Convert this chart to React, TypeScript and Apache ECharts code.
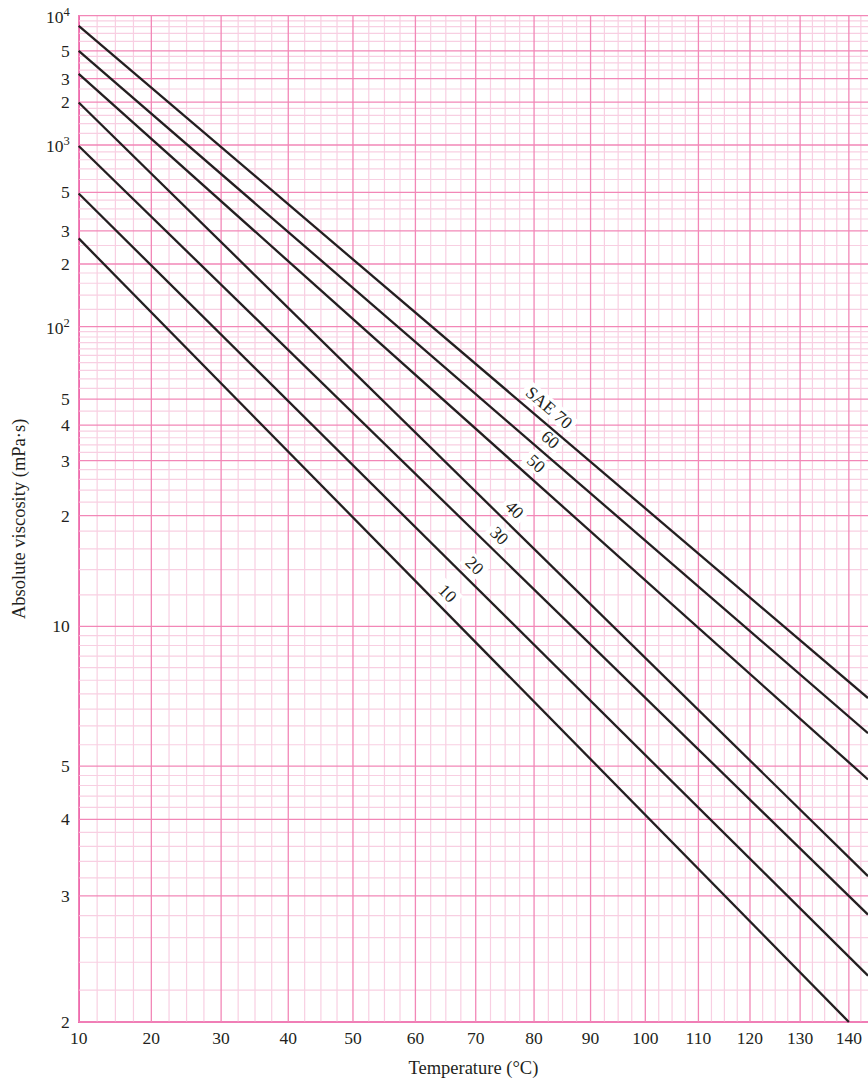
import React, { useEffect, useRef } from "react";
import * as echarts from "echarts";

// ---- Data ----
const xTickValues = [10, 20, 30, 40, 50, 60, 70, 80, 90, 100, 110, 120, 130, 140];
const yTickValues = [2, 3, 4, 5, 10, 20, 30, 40, 50, 100, 200, 300, 500, 1000, 2000, 3000, 5000, 10000];
const yTickLabels = ["2", "3", "4", "5", "10", "2", "3", "4", "5", "10^2", "2", "3", "5", "10^3", "2", "3", "5", "10^4"];
const yMinorValues = [
  9000, 8000, 7000, 6000, 4500, 4000, 3500, 2500, 1800, 1600, 1400, 1200,
  900, 800, 700, 600, 450, 400, 350, 250, 180, 160, 140, 120,
  95, 90, 85, 80, 75, 70, 65, 60, 55, 45, 38, 36, 34, 32, 28, 26, 24, 22,
  18, 16, 14, 12, 9.5, 9, 8.5, 8, 7.5, 7, 6.5, 6, 5.5,
  4.8, 4.6, 4.4, 4.2, 3.8, 3.6, 3.4, 3.2, 2.8, 2.6, 2.4, 2.2,
];
const xStartTemp = 10;
const xEndTemp = 144;
const xMinorStep = 2.5;
const yBottomValue = 2;
const yTopValue = 10000;

const saeLabels = ["10", "20", "30", "40", "50", "60", "SAE 70"];
const viscAtStart = [273, 493, 985, 1985, 3270, 5000, 8150];
const endTemps = [140, 144, 144, 144, 144, 144, 144];
const viscAtEnd = [2.0, 2.3, 2.81, 3.22, 4.72, 5.8, 6.86];
const labelTemps = [63.6, 68.1, 72.3, 74.9, 78.7, 81.2, 81.0];

// ---- Chart scales (viscosity-temperature chart) ----
const fx = (t: number) => Math.log10(t + 230);
const fy = (v: number) => Math.log10(Math.log10(v + 0.67));

const FONT = '"Liberation Serif", "Times New Roman", serif';
const INK = "#231f20";
const BORDER = "#e6329a";
const MAJOR = "#f287b7";
const MINOR = "#f8cfe2";

export default function App() {
  const ref = useRef<HTMLDivElement>(null);

  useEffect(() => {
    if (!ref.current) return;
    const chart = echarts.init(ref.current, undefined, { renderer: "svg" });

    const xMin = fx(xStartTemp);
    const xMax = fx(xEndTemp);
    const yMin = fy(yBottomValue);
    const yMax = fy(yTopValue);

    const xMinor: number[] = [];
    for (let t = xStartTemp + xMinorStep; t < xEndTemp; t += xMinorStep) {
      if (t % 10 !== 0) xMinor.push(t);
    }

    const minorData: number[][] = [
      ...xMinor.map((t) => [fx(t), yMin, 0]),
      ...yMinorValues.map((v) => [xMin, fy(v), 1]),
    ];
    const majorData: number[][] = [
      ...xTickValues.map((t) => [fx(t), yMin, 0]),
      ...yTickValues.map((v) => [xMin, fy(v), 1]),
    ];

    const gridRender = (color: string, width: number) => (params: any, api: any) => {
      const dir = api.value(2);
      let p1, p2;
      if (dir === 0) {
        const x = api.value(0);
        p1 = api.coord([x, yMin]);
        p2 = api.coord([x, yMax]);
      } else {
        const y = api.value(1);
        p1 = api.coord([xMin, y]);
        p2 = api.coord([xMax, y]);
      }
      return {
        type: "line",
        shape: { x1: p1[0], y1: p1[1], x2: p2[0], y2: p2[1] },
        style: { stroke: color, lineWidth: width },
      };
    };

    const xTickPos = xTickValues.map(fx);
    const yTickPos = yTickValues.map(fy);

    const lineSeries = saeLabels.map((name, i) => ({
      type: "line",
      name,
      data: [
        [fx(xStartTemp), fy(viscAtStart[i])],
        [fx(endTemps[i]), fy(viscAtEnd[i])],
      ],
      symbol: "none",
      lineStyle: { color: INK, width: 2.3 },
      silent: true,
      z: 6,
    }));

    const labelData = saeLabels.map((_, i) => {
      const x0 = fx(xStartTemp);
      const y0 = fy(viscAtStart[i]);
      const x1 = fx(endTemps[i]);
      const y1 = fy(viscAtEnd[i]);
      const xl = fx(labelTemps[i]);
      const yl = y0 + ((y1 - y0) * (xl - x0)) / (x1 - x0);
      return [xl, yl, i];
    });

    chart.setOption({
      animation: false,
      grid: { left: 78.7, top: 15.7, right: 0, bottom: 57, containLabel: false },
      xAxis: {
        type: "value",
        min: xMin,
        max: xMax,
        name: "Temperature (\u00b0C)",
        nameLocation: "middle",
        nameGap: 36,
        nameTextStyle: { fontFamily: FONT, fontSize: 18.5, color: INK },
        axisLine: { show: true, onZero: false, lineStyle: { color: BORDER, width: 1.6 } },
        axisTick: { show: false },
        splitLine: { show: false },
        axisLabel: {
          customValues: xTickPos,
          fontFamily: FONT,
          fontSize: 17.5,
          color: INK,
          margin: 7,
          formatter: (v: number) => {
            const idx = xTickPos.findIndex((p) => Math.abs(p - v) < 1e-6);
            return idx >= 0 ? String(xTickValues[idx]) : "";
          },
        },
      },
      yAxis: {
        type: "value",
        min: yMin,
        max: yMax,
        name: "Absolute viscosity (mPa\u00b7s)",
        nameLocation: "middle",
        nameGap: 50,
        nameTextStyle: { fontFamily: FONT, fontSize: 18.5, color: INK },
        axisLine: { show: true, onZero: false, lineStyle: { color: BORDER, width: 1.6 } },
        axisTick: { show: false },
        splitLine: { show: false },
        axisLabel: {
          customValues: yTickPos,
          fontFamily: FONT,
          fontSize: 17.5,
          color: INK,
          margin: 9,
          formatter: (v: number) => {
            const idx = yTickPos.findIndex((p) => Math.abs(p - v) < 1e-6);
            if (idx < 0) return "";
            const lab = yTickLabels[idx];
            if (lab.indexOf("^") >= 0) {
              const [b, s] = lab.split("^");
              return "{b|" + b + "}{s|" + s + "}";
            }
            return lab;
          },
          rich: {
            b: { fontFamily: FONT, fontSize: 17.5, color: INK, lineHeight: 20, verticalAlign: "bottom" },
            s: { fontFamily: FONT, fontSize: 12.5, color: INK, lineHeight: 12, verticalAlign: "top" },
          },
        },
      },
      series: [
        {
          type: "custom",
          silent: true,
          clip: false,
          z: 1,
          encode: { x: 0, y: 1 },
          data: minorData,
          renderItem: gridRender(MINOR, 1.2),
        },
        {
          type: "custom",
          silent: true,
          clip: false,
          z: 2,
          encode: { x: 0, y: 1 },
          data: majorData,
          renderItem: gridRender(MAJOR, 1.3),
        },
        {
          type: "custom",
          silent: true,
          clip: false,
          z: 4,
          encode: { x: 0, y: 1 },
          data: labelData,
          renderItem: (params: any, api: any) => {
            const i = api.value(2);
            const p0 = api.coord([fx(xStartTemp), fy(viscAtStart[i])]);
            const p1 = api.coord([fx(endTemps[i]), fy(viscAtEnd[i])]);
            const ang = Math.atan2(p1[1] - p0[1], p1[0] - p0[0]);
            const p = api.coord([api.value(0), api.value(1)]);
            return {
              type: "text",
              x: p[0],
              y: p[1],
              rotation: -ang,
              style: {
                text: saeLabels[i],
                x: 0,
                y: -14.5,
                align: "center",
                verticalAlign: "middle",
                fontFamily: FONT,
                fontSize: 17.5,
                fill: INK,
                backgroundColor: "#ffffff",
                padding: [0, 4, 0, 4],
              },
            };
          },
        },
        ...lineSeries,
      ],
    });

    return () => chart.dispose();
  }, []);

  return (
    <div
      ref={ref}
      style={{ position: "absolute", left: 0, top: 0, width: 868, height: 1082 }}
    />
  );
}
